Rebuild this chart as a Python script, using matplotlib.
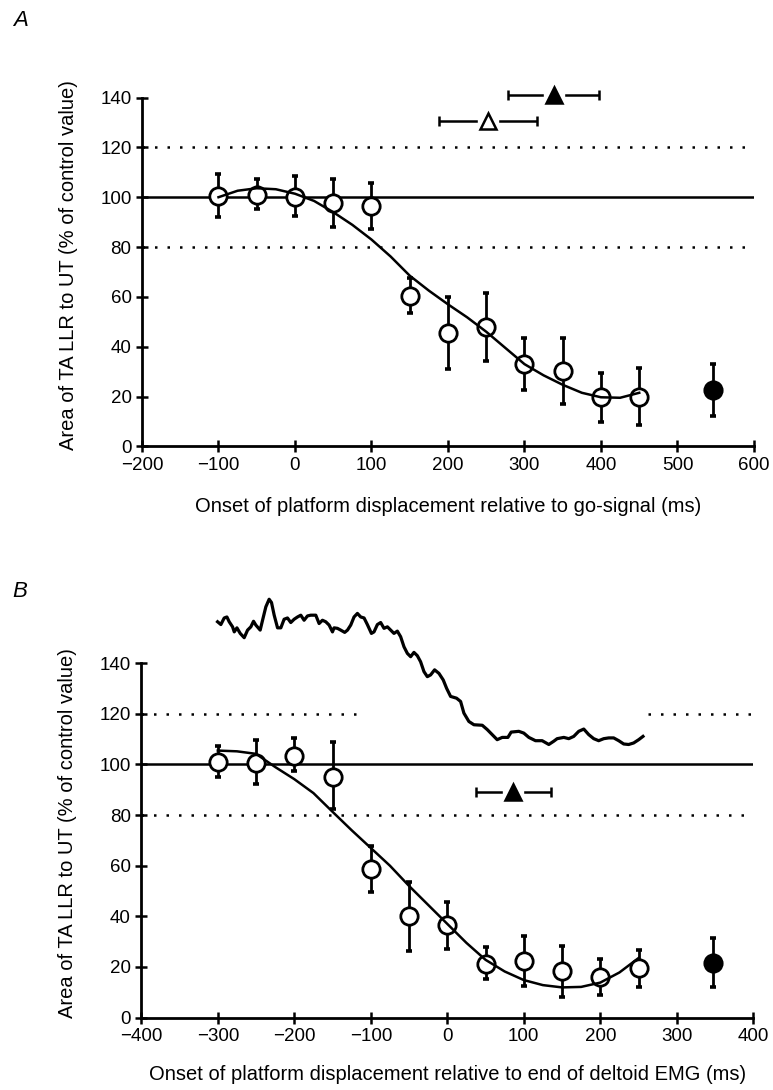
import numpy as np
import matplotlib.pyplot as plt

plt.rcParams['font.family'] = ['Liberation Sans', 'DejaVu Sans']

# ---- panel A: onset relative to go-signal
a_x = [-100, -50, 0, 50, 100, 150, 200, 250, 300, 350, 400, 450]
a_mean = [100.3, 101.0, 100.0, 97.7, 96.3, 60.3, 45.4, 48.0, 33.0, 30.2, 19.7, 19.8]
a_upper = [109.4, 107.4, 108.7, 107.4, 105.8, 67.6, 60.0, 61.5, 43.6, 43.6, 29.4, 31.4]
a_lower = [92.0, 95.3, 92.6, 88.2, 87.3, 53.5, 31.0, 34.2, 22.5, 16.9, 9.8, 8.4]
a_ctrl = [547, 22.5, 33.0, 12.0]   # x, mean, upper, lower (filled circle)

a_fit_x = [-100, -75, -50, -25, 0, 25, 50, 75, 100, 125, 150, 175, 200,
           225, 250, 275, 300, 325, 350, 375, 400, 425, 450]
a_fit_y = [100.0, 102.6, 103.6, 103.2, 101.4, 98.5, 94.0, 88.9, 83.0, 76.2,
           68.5, 62.5, 57.0, 51.8, 46.0, 39.5, 33.0, 28.5, 24.7, 21.5, 19.7,
           19.5, 21.5]

# mean +- range markers (x, low, high)
a_tri_filled = [338, 278, 397]
a_tri_open = [252, 188, 317]

# ---- panel B: onset relative to end of deltoid EMG
b_x = [-300, -250, -200, -150, -100, -50, 0, 50, 100, 150, 200, 250]
b_mean = [101.0, 100.6, 103.3, 95.0, 58.7, 40.3, 36.7, 21.3, 22.3, 18.4, 16.1, 19.4]
b_upper = [107.2, 109.6, 110.6, 108.9, 67.9, 53.6, 45.6, 27.9, 32.1, 28.1, 23.3, 26.8]
b_lower = [95.0, 92.4, 97.4, 82.3, 49.8, 26.3, 27.2, 15.1, 12.4, 8.2, 8.9, 11.9]
b_ctrl = [347, 21.6, 31.6, 11.9]

b_fit_x = [-300, -275, -250, -225, -200, -175, -150, -125, -100, -75, -50,
           -25, 0, 25, 50, 75, 100, 125, 150, 175, 200, 225, 250]
b_fit_y = [105.5, 105.2, 104.2, 99.0, 94.2, 88.7, 81.3, 74.0, 67.0, 60.0,
           52.0, 44.5, 37.0, 29.5, 22.8, 18.2, 14.8, 12.8, 11.9, 12.1, 13.8,
           17.8, 23.5]

b_tri_filled = [86, 37, 136]

# rectified EMG trace drawn above panel B
emg_x = [-300.3, -296, -291.6, -288.1, -285.1, -280.7, -278.5, -275, -270.7,
         -265.5, -261.1, -256.8, -253.3, -250.3, -244.6, -241.5, -237.2,
         -232.9, -229.8, -226.3, -221.9, -217.6, -213.3, -208.9, -204.6,
         -200.2, -195.8, -191.5, -187.2, -182.8, -178.5, -171.9, -167.6,
         -163.2, -158.9, -154.5, -150.1, -148, -143.6, -139.3, -134.1, -130.5,
         -126.2, -121.9, -117.5, -113.2, -108.8, -104.5, -99.2, -95.8, -91.4,
         -87.1, -82.7, -78.3, -74, -69.7, -65.3, -61, -56.6, -52.2, -47.9,
         -43.6, -39.2, -34.9, -30.5, -26.1, -21.8, -16.6, -10.9, -5.3, -0.9,
         4.3, 12.1, 17.4, 21.7, 28.2, 34.8, 45.7, 52.2, 58.7, 65.2, 71.8, 79.2,
         83.5, 93.5, 100, 106.6, 115.3, 124, 132.7, 139.2, 143.6, 152.3, 158.8,
         165.3, 171.8, 178.4, 184.9, 191.4, 197.9, 204.5, 211, 217.5, 224.1,
         230.6, 237.1, 243.6, 250.2, 255.8]
emg_y = [156.4, 155.3, 157.9, 158.3, 156.4, 154.4, 152.4, 154.0, 151.8, 150.1,
         153.1, 154.4, 156.6, 155.1, 153.1, 157.0, 162.3, 165.3, 164.0, 159.0,
         154.0, 154.0, 157.4, 157.9, 156.1, 157.4, 158.3, 159.0, 157.0, 158.7,
         159.0, 159.0, 155.7, 157.0, 156.4, 155.1, 152.4, 154.0, 153.8, 153.1,
         152.2, 153.1, 155.1, 158.3, 159.7, 158.3, 157.9, 155.3, 151.8, 152.4,
         155.3, 156.1, 153.8, 154.4, 153.1, 151.8, 152.7, 150.5, 146.5, 143.9,
         142.6, 144.3, 143.0, 140.6, 136.7, 134.7, 135.4, 137.4, 136.0, 133.4,
         130.1, 126.9, 126.2, 124.9, 120.3, 117.0, 115.7, 115.5, 113.8, 111.8,
         109.8, 110.7, 110.7, 112.8, 113.1, 112.4, 110.7, 109.4, 109.4, 107.9,
         109.2, 110.2, 110.7, 110.2, 111.1, 113.1, 114.0, 111.8, 110.2, 109.4,
         110.2, 110.5, 110.5, 109.4, 108.1, 107.9, 108.5, 109.8, 111.1]

ylab = 'Area of TA LLR to UT (% of control value)'
dots = (0, (1, 4))


def style_axes(ax, xticks):
    for s in ['top', 'right']:
        ax.spines[s].set_visible(False)
    for s in ['left', 'bottom']:
        ax.spines[s].set_linewidth(2.0)
    ax.set_xticks(xticks)
    ax.set_yticks(range(0, 141, 20))
    ax.set_ylim(0, 140)
    ax.tick_params(direction='inout', length=9, width=1.8, labelsize=13.5, pad=3)
    ax.set_ylabel(ylab, fontsize=14.5)
    ax.yaxis.set_label_coords(-0.105, 0.52)


def draw_points(ax, x, mean, upper, lower, ctrl):
    x = np.array(x)
    mean = np.array(mean)
    yerr = [mean - np.array(lower), np.array(upper) - mean]
    ax.errorbar(x, mean, yerr=yerr, fmt='none', ecolor='black', elinewidth=2.0,
                capsize=2, capthick=2.6, zorder=2)
    ax.plot(x, mean, 'o', ms=12.5, mfc='white', mec='black', mew=2.0, zorder=3)
    cx, cm, cu, cl = ctrl
    ax.errorbar([cx], [cm], yerr=[[cm - cl], [cu - cm]], fmt='none', ecolor='black',
                elinewidth=2.0, capsize=2, capthick=2.6, zorder=2)
    ax.plot([cx], [cm], 'o', ms=12.5, mfc='black', mec='black', mew=2.0, zorder=3)


def draw_range(ax, tri, y, filled):
    x, lo, hi = tri
    eb = ax.errorbar([x], [y], xerr=[[x - lo], [hi - x]], fmt='none', ecolor='black',
                     elinewidth=1.8, capsize=3.5, capthick=1.8, zorder=5)
    for art in eb.get_children():
        art.set_clip_on(False)
    ax.plot([x], [y], 's', ms=15, mfc='white', mec='white', zorder=6, clip_on=False)
    ax.plot([x], [y], '^', ms=12, mfc='black' if filled else 'white', mec='black',
            mew=1.8, zorder=7, clip_on=False)


fig = plt.figure(figsize=(7.73, 10.9), dpi=100)

# ---------------- A
axA = fig.add_axes([0.1837, 0.5905, 0.7917, 0.3200])
style_axes(axA, range(-200, 601, 100))
axA.set_xlim(-200, 600)
axA.axhline(100, color='black', lw=1.8, zorder=1)
axA.axhline(120, color='black', lw=1.8, ls=dots, zorder=1)
axA.axhline(80, color='black', lw=1.8, ls=dots, zorder=1)
draw_points(axA, a_x, a_mean, a_upper, a_lower, a_ctrl)
axA.plot(a_fit_x, a_fit_y, color='black', lw=1.8, zorder=4)
draw_range(axA, a_tri_filled, 141, True)
draw_range(axA, a_tri_open, 130.5, False)
axA.set_xlabel('Onset of platform displacement relative to go-signal (ms)', fontsize=14.5)
axA.xaxis.set_label_coords(0.5, -0.145)

# ---------------- B
axB = fig.add_axes([0.1828, 0.0665, 0.7917, 0.3250])
style_axes(axB, range(-400, 401, 100))
axB.set_xlim(-400, 400)
axB.axhline(100, color='black', lw=1.8, zorder=1)
axB.hlines(120, -400, -115, color='black', lw=1.8, ls=dots, zorder=1)
axB.hlines(120, 262, 398, color='black', lw=1.8, ls=dots, zorder=1)
axB.axhline(80, color='black', lw=1.8, ls=dots, zorder=1)
draw_points(axB, b_x, b_mean, b_upper, b_lower, b_ctrl)
axB.plot(b_fit_x, b_fit_y, color='black', lw=1.8, zorder=4)
draw_range(axB, b_tri_filled, 89.2, True)
axB.plot(emg_x, emg_y, color='black', lw=2.3, zorder=4, clip_on=False)
axB.set_xlabel('Onset of platform displacement relative to end of deltoid EMG (ms)',
               fontsize=14.5)
axB.xaxis.set_label_coords(0.5, -0.135)

fig.text(0.026, 0.981, 'A', fontsize=16, style='italic', ha='center', va='center')
fig.text(0.026, 0.457, 'B', fontsize=16, style='italic', ha='center', va='center')

fig.savefig('out.png', dpi=100)
